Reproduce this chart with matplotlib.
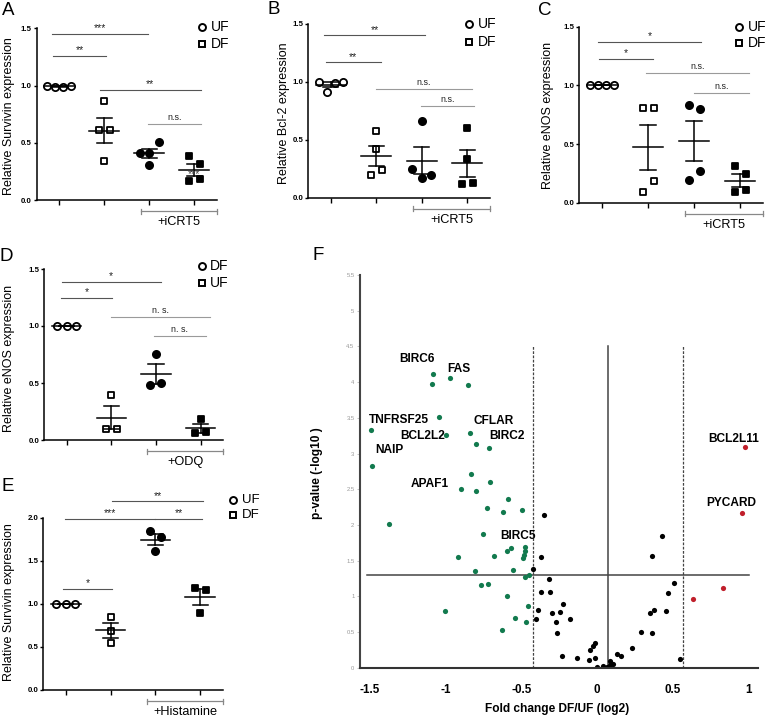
import numpy as np
import matplotlib.pyplot as plt
from matplotlib.lines import Line2D

plt.rcParams['font.family'] = ['Liberation Sans', 'DejaVu Sans']

W, H = 780, 717

# ---- panels A-E: relative expression, one value per replicate ----
# A: Survivin, +/- iCRT5
A_uf = [1.0, 0.99, 0.99, 1.0]
A_df = [0.866, 0.609, 0.609, 0.347]
A_uf_icrt5 = [0.414, 0.414, 0.507, 0.309]
A_df_icrt5 = [0.388, 0.315, 0.166, 0.19]
# B: Bcl-2, +/- iCRT5
B_uf = [1.0, 0.91, 0.99, 1.0]
B_df = [0.572, 0.42, 0.2, 0.236]
B_uf_icrt5 = [0.661, 0.247, 0.167, 0.195]
B_df_icrt5 = [0.603, 0.333, 0.115, 0.129]
# C: eNOS, +/- iCRT5
C_uf = [1.0, 1.0, 1.0, 1.0]
C_df = [0.806, 0.806, 0.094, 0.185]
C_uf_icrt5 = [0.829, 0.80, 0.19, 0.273]
C_df_icrt5 = [0.313, 0.245, 0.088, 0.105]
# D: eNOS, +/- ODQ
D_df = [1.0, 1.0, 1.0]
D_uf = [0.398, 0.096, 0.096]
D_df_odq = [0.754, 0.482, 0.503]
D_uf_odq = [0.18, 0.058, 0.07]
# E: Survivin, +/- histamine
E_uf = [1.0, 1.0, 1.0]
E_df = [0.853, 0.68, 0.544]
E_uf_hist = [1.846, 1.78, 1.614]
E_df_hist = [1.18, 1.16, 0.89]

# significance bars: (x from, x to, height, text)
A_sig = [(-0.15, 1.97, 1.45, '***'), (-0.14, 1.04, 1.26, '**'),
         (0.91, 3.14, 0.96, '**'), (1.98, 3.15, 0.668, 'n.s.')]
B_sig = [(-0.15, 2.07, 1.40, '**'), (-0.11, 1.10, 1.167, '**'),
         (0.99, 3.11, 0.937, 'n.s.'), (1.98, 3.15, 0.79, 'n.s.')]
C_sig = [(-0.09, 2.15, 1.37, '*'), (-0.07, 1.10, 1.225, '*'),
         (0.95, 3.20, 1.105, 'n.s.'), (2.0, 3.20, 0.937, 'n.s.')]
D_sig = [(-0.11, 2.11, 1.39, '*'), (-0.13, 1.02, 1.25, '*'),
         (0.99, 3.20, 1.08, 'n. s.'), (1.96, 3.11, 0.91, 'n. s.')]
E_sig = [(-0.06, 1.04, 1.17, '*'), (-0.02, 1.98, 1.99, '***'),
         (2.0, 3.04, 1.99, '**'), (1.04, 3.07, 2.19, '**')]

# ---- panel F: volcano plot (fold change log2, -log10 p) ----
green_x = [-1.083, -0.972, -1.087, -0.853, -1.043, -1.495, -0.994, -0.840, -0.800, -0.712,
           -1.488, -0.835, -0.708, -0.900, -0.796, -0.589, -0.723, -0.622, -0.494, -1.376,
           -0.752, -0.915, -0.679, -0.597, -0.569, -0.474, -0.474, -0.483, -0.489, -0.807,
           -0.551, -0.472, -0.448, -0.769, -0.719, -0.591, -1.005, -0.456, -0.542, -0.465, -0.624]
green_y = [4.12, 4.06, 3.98, 3.955, 3.51, 3.33, 3.26, 3.29, 3.13, 3.08,
           2.83, 2.71, 2.60, 2.50, 2.48, 2.36, 2.23, 2.18, 2.21, 2.01,
           1.87, 1.55, 1.57, 1.64, 1.68, 1.69, 1.63, 1.58, 1.53, 1.35,
           1.37, 1.27, 1.30, 1.16, 1.17, 1.00, 0.80, 0.86, 0.70, 0.64, 0.53]
black_x = [-0.346, -0.368, -0.421, -0.319, -0.368, -0.311, -0.223, -0.386, -0.245, -0.293,
           -0.405, -0.177, -0.271, -0.262, -0.231, -0.128, -0.051, -0.042, -0.024, -0.015,
           -0.015, 0.004, 0.042, 0.068, 0.090, 0.108, 0.086, 0.134, 0.157, 0.230,
           0.291, 0.368, 0.355, 0.377, 0.456, 0.470, 0.509, 0.368, 0.432, 0.553]
black_y = [2.14, 1.55, 1.38, 1.24, 1.06, 1.06, 0.89, 0.81, 0.78, 0.76,
           0.68, 0.68, 0.64, 0.48, 0.17, 0.14, 0.11, 0.25, 0.31, 0.35,
           0.13, 0.01, 0.02, 0.01, 0.09, 0.05, 0.04, 0.19, 0.17, 0.27,
           0.50, 0.48, 0.76, 0.81, 0.79, 1.05, 1.19, 1.56, 1.85, 0.12]
red_x = [0.977, 0.961, 0.833, 0.637]
red_y = [3.09, 2.17, 1.11, 0.96]
genes = ['BIRC6', 'FAS', 'TNFRSF25', 'BCL2L2', 'CFLAR', 'BIRC2', 'NAIP', 'APAF1',
         'BIRC5', 'BCL2L11', 'PYCARD']
gene_x = [-1.191, -0.913, -1.310, -1.149, -0.684, -0.597, -1.372, -1.104, -0.520, 0.902, 0.886]
gene_y = [4.32, 4.18, 3.47, 3.25, 3.46, 3.25, 3.045, 2.57, 1.85, 3.20, 2.30]
fc_cut = [-0.42, 0.567]
fc_mid = 0.075
p_cut = 1.301

fig = plt.figure(figsize=(W / 100, H / 100), dpi=100)


def fpos(x, y):
    return x / W, 1 - y / H


def make_axes(l, t, r, b):
    ax = fig.add_axes([l / W, 1 - b / H, (r - l) / W, (b - t) / H])
    ax.patch.set_alpha(0)
    return ax


def swarm_offsets(vals, ppu, gap=11.3):
    # spread replicates that would overlap side by side (px offsets)
    vals = np.asarray(vals)
    order = np.argsort(vals, kind='stable')
    clusters = [[order[0]]]
    for i, j in zip(order[:-1], order[1:]):
        if (vals[j] - vals[i]) * ppu < gap:
            clusters[-1].append(j)
        else:
            clusters.append([j])
    off = np.zeros(len(vals))
    for c in clusters:
        c = sorted(c)
        n = len(c)
        step = {1: 0.0, 2: 11.0, 3: 9.5}.get(n, 8.0)
        for k, idx in enumerate(c):
            off[idx] = (k - (n - 1) / 2) * step
    return off


def dot_panel(box, groups, ymax, sig, bracket_text, stray=None):
    l, t, r, b = box
    ax = make_axes(l, t, r, b)
    ppu_y = (b - t) / ymax
    ppu_x = (r - l) / 4.0
    styles = [('o', 'white'), ('s', 'white'), ('o', 'black'), ('s', 'black')]
    for i, (vals, (m, fc)) in enumerate(zip(groups, styles)):
        v = np.array(vals)
        xs = i + swarm_offsets(v, ppu_y) / ppu_x
        ax.scatter(xs, v, marker=m, s=27 if m == 'o' else 24, facecolor=fc,
                   edgecolor='black', linewidth=1.3, zorder=3, clip_on=False)
        mean = v.mean()
        sem = v.std(ddof=1) / np.sqrt(len(v))
        ax.plot([i - 0.33, i + 0.33], [mean, mean], color='black', lw=1.1, zorder=4)
        ax.plot([i - 0.17, i + 0.17], [mean + sem] * 2, color='black', lw=1.1, zorder=4)
        ax.plot([i - 0.17, i + 0.17], [mean - sem] * 2, color='black', lw=1.1, zorder=4)
        ax.plot([i, i], [mean - sem, mean + sem], color='black', lw=1.1, zorder=4)
    for x1, x2, y, txt in sig:
        ns = txt.startswith('n')
        ax.plot([x1, x2], [y, y], color='#9a9a9a' if ns else '#555555', lw=0.8,
                clip_on=False)
        ax.annotate(txt, ((x1 + x2) / 2, y), xytext=(0, 1.5 if ns else 0.5),
                    textcoords='offset points', ha='center', va='bottom',
                    fontsize=6.4 if ns else 7.5, color='#222222', annotation_clip=False)
    if stray:
        ax.text(stray[0], stray[1], stray[2], ha='center', va='center', fontsize=7.5,
                color='#444444', zorder=5)
    # treatment bracket below the axis
    yb = -11 / ppu_y
    cap = 2.5 / ppu_y
    ax.plot([1.81, 3.5], [yb, yb], color='#888888', lw=0.9, clip_on=False)
    for xe in (1.81, 3.5):
        ax.plot([xe, xe], [yb - cap, yb + cap], color='#888888', lw=0.9, clip_on=False)
    ax.text(2.66, -22 / ppu_y, bracket_text, ha='center', va='center', fontsize=9.2,
            clip_on=False)
    ax.set_xlim(-0.5, 3.5)
    ax.set_ylim(0, ymax)
    ax.spines[['top', 'right']].set_visible(False)
    for s in ('left', 'bottom'):
        ax.spines[s].set_linewidth(1.1)
    ax.set_xticks(range(4))
    ax.set_xticklabels([])
    yt = np.arange(0, ymax + 0.01, 0.5)
    ax.set_yticks(yt)
    ax.set_yticklabels([f'{v:.1f}' for v in yt], fontsize=5.7, fontweight='bold')
    ax.tick_params(axis='y', length=2.5, width=1, pad=1)
    ax.tick_params(axis='x', length=3.5, width=1)
    return ax


dot_panel((36.7, 28.3, 216.7, 200.3), [A_uf, A_df, A_uf_icrt5, A_df_icrt5], 1.5, A_sig,
          '+iCRT5', stray=(3.0, 0.23, '***'))
dot_panel((308, 23.7, 490, 197.7), [B_uf, B_df, B_uf_icrt5, B_df_icrt5], 1.5, B_sig, '+iCRT5')
dot_panel((579, 26.7, 763, 202.7), [C_uf, C_df, C_uf_icrt5, C_df_icrt5], 1.5, C_sig, '+iCRT5')
dot_panel((44.3, 269, 223, 440), [D_df, D_uf, D_df_odq, D_uf_odq], 1.5, D_sig, '+ODQ')
dot_panel((43.3, 517.7, 222.7, 690), [E_uf, E_df, E_uf_hist, E_df_hist], 2.0, E_sig,
          '+Histamine')

# y labels, panel letters and legends (figure pixel positions)
ylabels = [(9.5, 116, 'Relative Survivin expression'), (284, 113, 'Relative Bcl-2 expression'),
           (548.3, 115, 'Relative eNOS expression'), (9.5, 358, 'Relative eNOS expression'),
           (9.5, 602, 'Relative Survivin expression')]
for x, y, s in ylabels:
    fig.text(*fpos(x, y), s, rotation=90, ha='center', va='center', fontsize=9)

for x, y, s in [(8.3, 10.3, 'A'), (274, 10, 'B'), (545, 10.5, 'C'), (6, 256, 'D'),
                (7.5, 486.5, 'E'), (318, 255, 'F')]:
    fig.text(*fpos(x, y), s, ha='center', va='center', fontsize=13.5)

legends = [(202.3, 27.3, 'o', 'UF', 10), (202.3, 44.3, 's', 'DF', 10),
           (469.3, 24, 'o', 'UF', 10), (469.3, 42.3, 's', 'DF', 10),
           (739.3, 26.7, 'o', 'UF', 10), (739.3, 43.3, 's', 'DF', 10),
           (201.7, 265.7, 'o', 'DF', 10), (201.7, 282.7, 's', 'UF', 10),
           (233.3, 500, 'o', 'UF', 9.5), (233.3, 515, 's', 'DF', 9.5)]
for x, y, m, s, fs in legends:
    fx, fy = fpos(x, y)
    fig.add_artist(Line2D([fx], [fy], marker=m, markersize=5 if m == 'o' else 4.7,
                          markerfacecolor='white', markeredgecolor='black',
                          markeredgewidth=1.4, linestyle='none', transform=fig.transFigure))
    fig.text(*fpos(x + 8.5, y), s, ha='left', va='center', fontsize=fs)

# ---- panel F ----
axf = make_axes(360, 275, 758, 667.7)
axf.set_xlim(-1.566, 1.066)
axf.set_ylim(0, 5.5)
for xc in fc_cut:
    axf.plot([xc, xc], [0, 4.5], color='#444444', lw=0.9, ls=(0, (2.2, 1.2)), zorder=1)
axf.plot([fc_mid, fc_mid], [0, 4.5], color='#444444', lw=1.1, zorder=1)
axf.plot([-1.52, 1.007], [p_cut, p_cut], color='#444444', lw=1.1, zorder=1)
axf.scatter(green_x, green_y, s=14, color='#127a4e', linewidth=0, zorder=2)
axf.scatter(black_x, black_y, s=14, color='black', linewidth=0, zorder=2)
axf.scatter(red_x, red_y, s=14, color='#c01f2b', linewidth=0, zorder=2)
for g, x, y in zip(genes, gene_x, gene_y):
    axf.text(x, y, g, ha='center', va='center', fontsize=8.6, fontweight='bold', zorder=3)
axf.spines[['top', 'right']].set_visible(False)
axf.spines['left'].set_linewidth(1.5)
axf.spines['left'].set_color('#444444')
axf.spines['bottom'].set_linewidth(1.5)
axf.spines['bottom'].set_color('#333333')
fy_ticks = np.arange(0, 5.51, 0.5)
axf.set_yticks(fy_ticks)
axf.set_yticklabels([f'{v:g}' for v in fy_ticks], fontsize=4.2, color='#999999')
axf.tick_params(axis='y', length=2, width=0.5, color='#aaaaaa', pad=2)
fx_ticks = [-1.5, -1, -0.5, 0, 0.5, 1]
axf.set_xticks(fx_ticks)
axf.set_xticklabels([f'{v:g}' for v in fx_ticks], fontsize=8.4, fontweight='bold')
axf.tick_params(axis='x', length=0, pad=12)
fig.text(*fpos(557, 709), 'Fold change DF/UF (log2)', ha='center', va='center',
         fontsize=8.6, fontweight='bold')
fig.text(*fpos(316.7, 473), 'p-value (-log10 )', rotation=90, ha='center', va='center',
         fontsize=8.6, fontweight='bold')

fig.savefig('out.png', dpi=100)
